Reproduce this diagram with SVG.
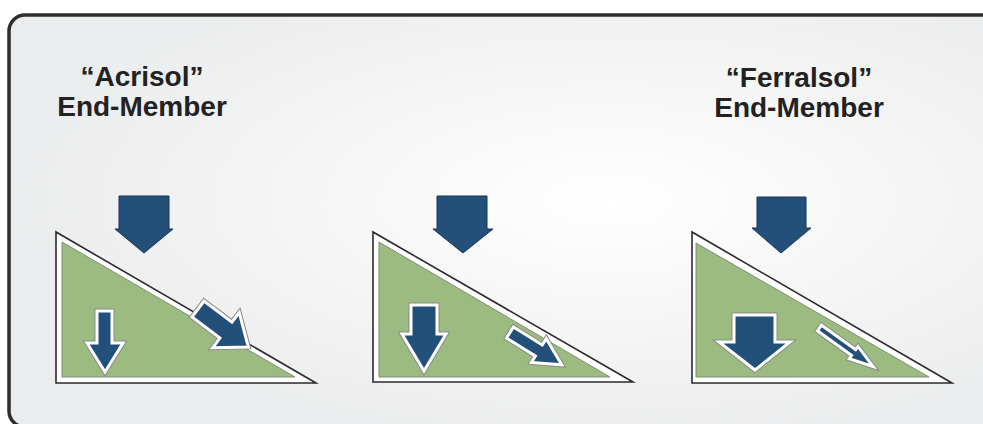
<svg xmlns="http://www.w3.org/2000/svg" width="983" height="424" viewBox="0 0 983 424">
<defs>
<radialGradient id="bg" cx="0.6" cy="0.45" r="0.6">
<stop offset="0" stop-color="#ffffff"/>
<stop offset="1" stop-color="#ebeced"/>
</radialGradient>
<style>
.title{font-family:"Liberation Sans",Arial,sans-serif;font-weight:bold;font-size:28px;fill:#222;text-anchor:middle}
.outer{fill:#fff;stroke:#2a2a2a;stroke-width:1.6}
.inner{fill:#9bbb80;stroke:#7f8f74;stroke-width:1}
.big{fill:#22507a;stroke:#1a3552;stroke-width:1}
.halo{fill:none;stroke:#8a8a8a;stroke-width:5;stroke-linejoin:miter}
.ol{fill:#22507a;stroke:#fff;stroke-width:3;stroke-linejoin:miter}
</style>
</defs>
<rect x="0" y="0" width="983" height="424" fill="#fff"/>
<rect x="9" y="15" width="1000" height="412" rx="16" ry="16" fill="url(#bg)" stroke="#2e2e2e" stroke-width="3.5"/>

<g id="acrisol">
<text class="title" x="142" y="86">“Acrisol”</text>
<text class="title" x="142" y="116">End-Member</text>
<polygon class="outer" points="56,232 56,383 316,383"/>
<polygon class="inner" points="62,242 62,377 295,377"/>
<polygon class="big" points="119,196 169,196 169,229 173,229 144,253 115,229 119,229"/>
<g id="acrisol-down">
<polygon class="halo" points="97,311 112,311 112,343 123,343 105,372 87,343 97,343"/>
<polygon class="ol" points="97,311 112,311 112,343 123,343 105,372 87,343 97,343"/>
</g>
<g id="acrisol-slope" transform="translate(198,309) rotate(37)">
<polygon class="halo" points="0,-10 35,-10 35,-22 63,0 35,22 35,10 0,10"/>
<polygon class="ol" points="0,-10 35,-10 35,-22 63,0 35,22 35,10 0,10"/>
</g>
</g>

<g id="middle">
<polygon class="outer" points="373,232 373,382 633,382"/>
<polygon class="inner" points="379,242 379,377 610,377"/>
<polygon class="big" points="437,196 487,196 487,229 493,229 463,253 433,229 437,229"/>
<g id="middle-down">
<polygon class="halo" points="411,305 437,305 437,334 446,334 424,371 402,334 411,334"/>
<polygon class="ol" points="411,305 437,305 437,334 446,334 424,371 402,334 411,334"/>
</g>
<g id="middle-slope" transform="translate(510,332.5) rotate(32)">
<polygon class="halo" points="0,-6.5 34,-6.5 34,-14 61,0 34,14 34,6.5 0,6.5"/>
<polygon class="ol" points="0,-6.5 34,-6.5 34,-14 61,0 34,14 34,6.5 0,6.5"/>
</g>
</g>

<g id="ferralsol">
<text class="title" x="799" y="87">“Ferralsol”</text>
<text class="title" x="799" y="117">End-Member</text>
<polygon class="outer" points="692,232 692,383 952,383"/>
<polygon class="inner" points="696,243 696,377 929,377"/>
<polygon class="big" points="757,197 806,197 806,228 811,228 781,253 752,228 757,228"/>
<g id="ferralsol-down">
<polygon class="halo" points="734,315 775,315 775,342 790,342 755,370 719,342 734,342"/>
<polygon class="ol" points="734,315 775,315 775,342 790,342 755,370 719,342 734,342"/>
</g>
<g id="ferralsol-slope" transform="translate(819.5,328) rotate(35.7)">
<polygon class="halo" points="0,-3.5 42,-3.5 42,-7.5 66,0 42,7.5 42,3.5 0,3.5"/>
<polygon class="ol" points="0,-3.5 42,-3.5 42,-7.5 66,0 42,7.5 42,3.5 0,3.5" stroke-width="2"/>
</g>
</g>
</svg>
